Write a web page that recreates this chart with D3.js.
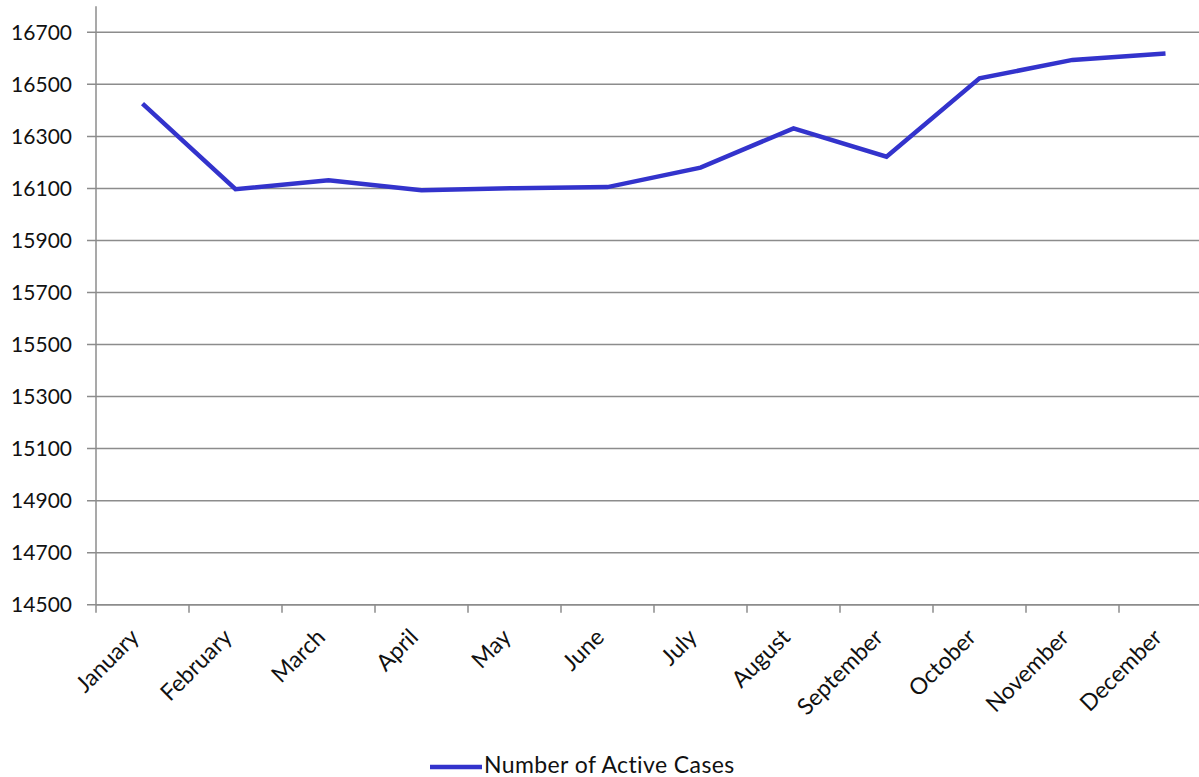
<!DOCTYPE html>
<html>
<head>
<meta charset="utf-8">
<script src="https://cdn.jsdelivr.net/npm/d3@7"></script>
<style>
  html, body { margin: 0; padding: 0; background: #fff; }
  svg { display: block; }
  text { font-family: "Lato", "Open Sans", sans-serif; fill: #111; }
</style>
</head>
<body>
<svg id="chart" width="1199" height="777"></svg>
<script>
const months = ["January","February","March","April","May","June","July","August","September","October","November","December"];
const activeCases = [16426, 16097, 16131, 16093, 16101, 16105, 16180, 16331, 16222, 16523, 16594, 16619];
const yTicks = [14500, 14700, 14900, 15100, 15300, 15500, 15700, 15900, 16100, 16300, 16500, 16700];
const seriesName = "Number of Active Cases";

(function () {
const svg = d3.select("#chart");
const mLeft = 96, mTop = 6.3, mBottom = 604.7, band = 93;
const mRight = mLeft + band * months.length;

const x = d3.scaleBand().domain(months).range([mLeft, mRight]).padding(0);
const y = d3.scaleLinear().domain([14500, 16800]).range([mBottom, mTop]);

// gridlines
svg.append("g")
  .selectAll("line")
  .data(yTicks)
  .join("line")
  .attr("x1", mLeft - 9).attr("x2", 1199)
  .attr("y1", d => y(d)).attr("y2", d => y(d))
  .attr("stroke", "#8c8c8c").attr("stroke-width", 1.5);

// y axis line
svg.append("line")
  .attr("x1", mLeft).attr("x2", mLeft)
  .attr("y1", mTop).attr("y2", mBottom + 8)
  .attr("stroke", "#8c8c8c").attr("stroke-width", 1.5);

// y labels
svg.append("g")
  .selectAll("text")
  .data(yTicks)
  .join("text")
  .attr("x", 72).attr("y", d => y(d))
  .attr("dy", "0.36em")
  .attr("text-anchor", "end")
  .attr("font-size", 21)
  .text(d => d);

// x axis line and ticks
svg.append("line")
  .attr("x1", mLeft).attr("x2", 1199)
  .attr("y1", mBottom).attr("y2", mBottom)
  .attr("stroke", "#8c8c8c").attr("stroke-width", 1.5);
svg.append("g")
  .selectAll("line")
  .data(months.slice(1))
  .join("line")
  .attr("x1", d => x(d)).attr("x2", d => x(d))
  .attr("y1", mBottom).attr("y2", mBottom + 8)
  .attr("stroke", "#8c8c8c").attr("stroke-width", 1.5);

// x labels
svg.append("g")
  .selectAll("text")
  .data(months)
  .join("text")
  .attr("text-anchor", "end")
  .attr("font-size", 23)
  .attr("transform", d => `translate(${x(d) + band / 2 - 2},${mBottom + 34}) rotate(-45)`)
  .text(d => d);

// line
const line = d3.line()
  .x((d, i) => x(months[i]) + band / 2)
  .y(d => y(d));
svg.append("path")
  .datum(activeCases)
  .attr("d", line)
  .attr("fill", "none")
  .attr("stroke", "#3333cc")
  .attr("stroke-width", 4.5)
  .attr("stroke-linejoin", "miter");

// legend
svg.append("line")
  .attr("x1", 430).attr("x2", 482)
  .attr("y1", 767).attr("y2", 767)
  .attr("stroke", "#3333cc").attr("stroke-width", 4.5);
svg.append("text")
  .attr("x", 484).attr("y", 773)
  .attr("font-size", 23)
  .attr("letter-spacing", 0.4)
  .text(seriesName);
})();
</script>
</body>
</html>
